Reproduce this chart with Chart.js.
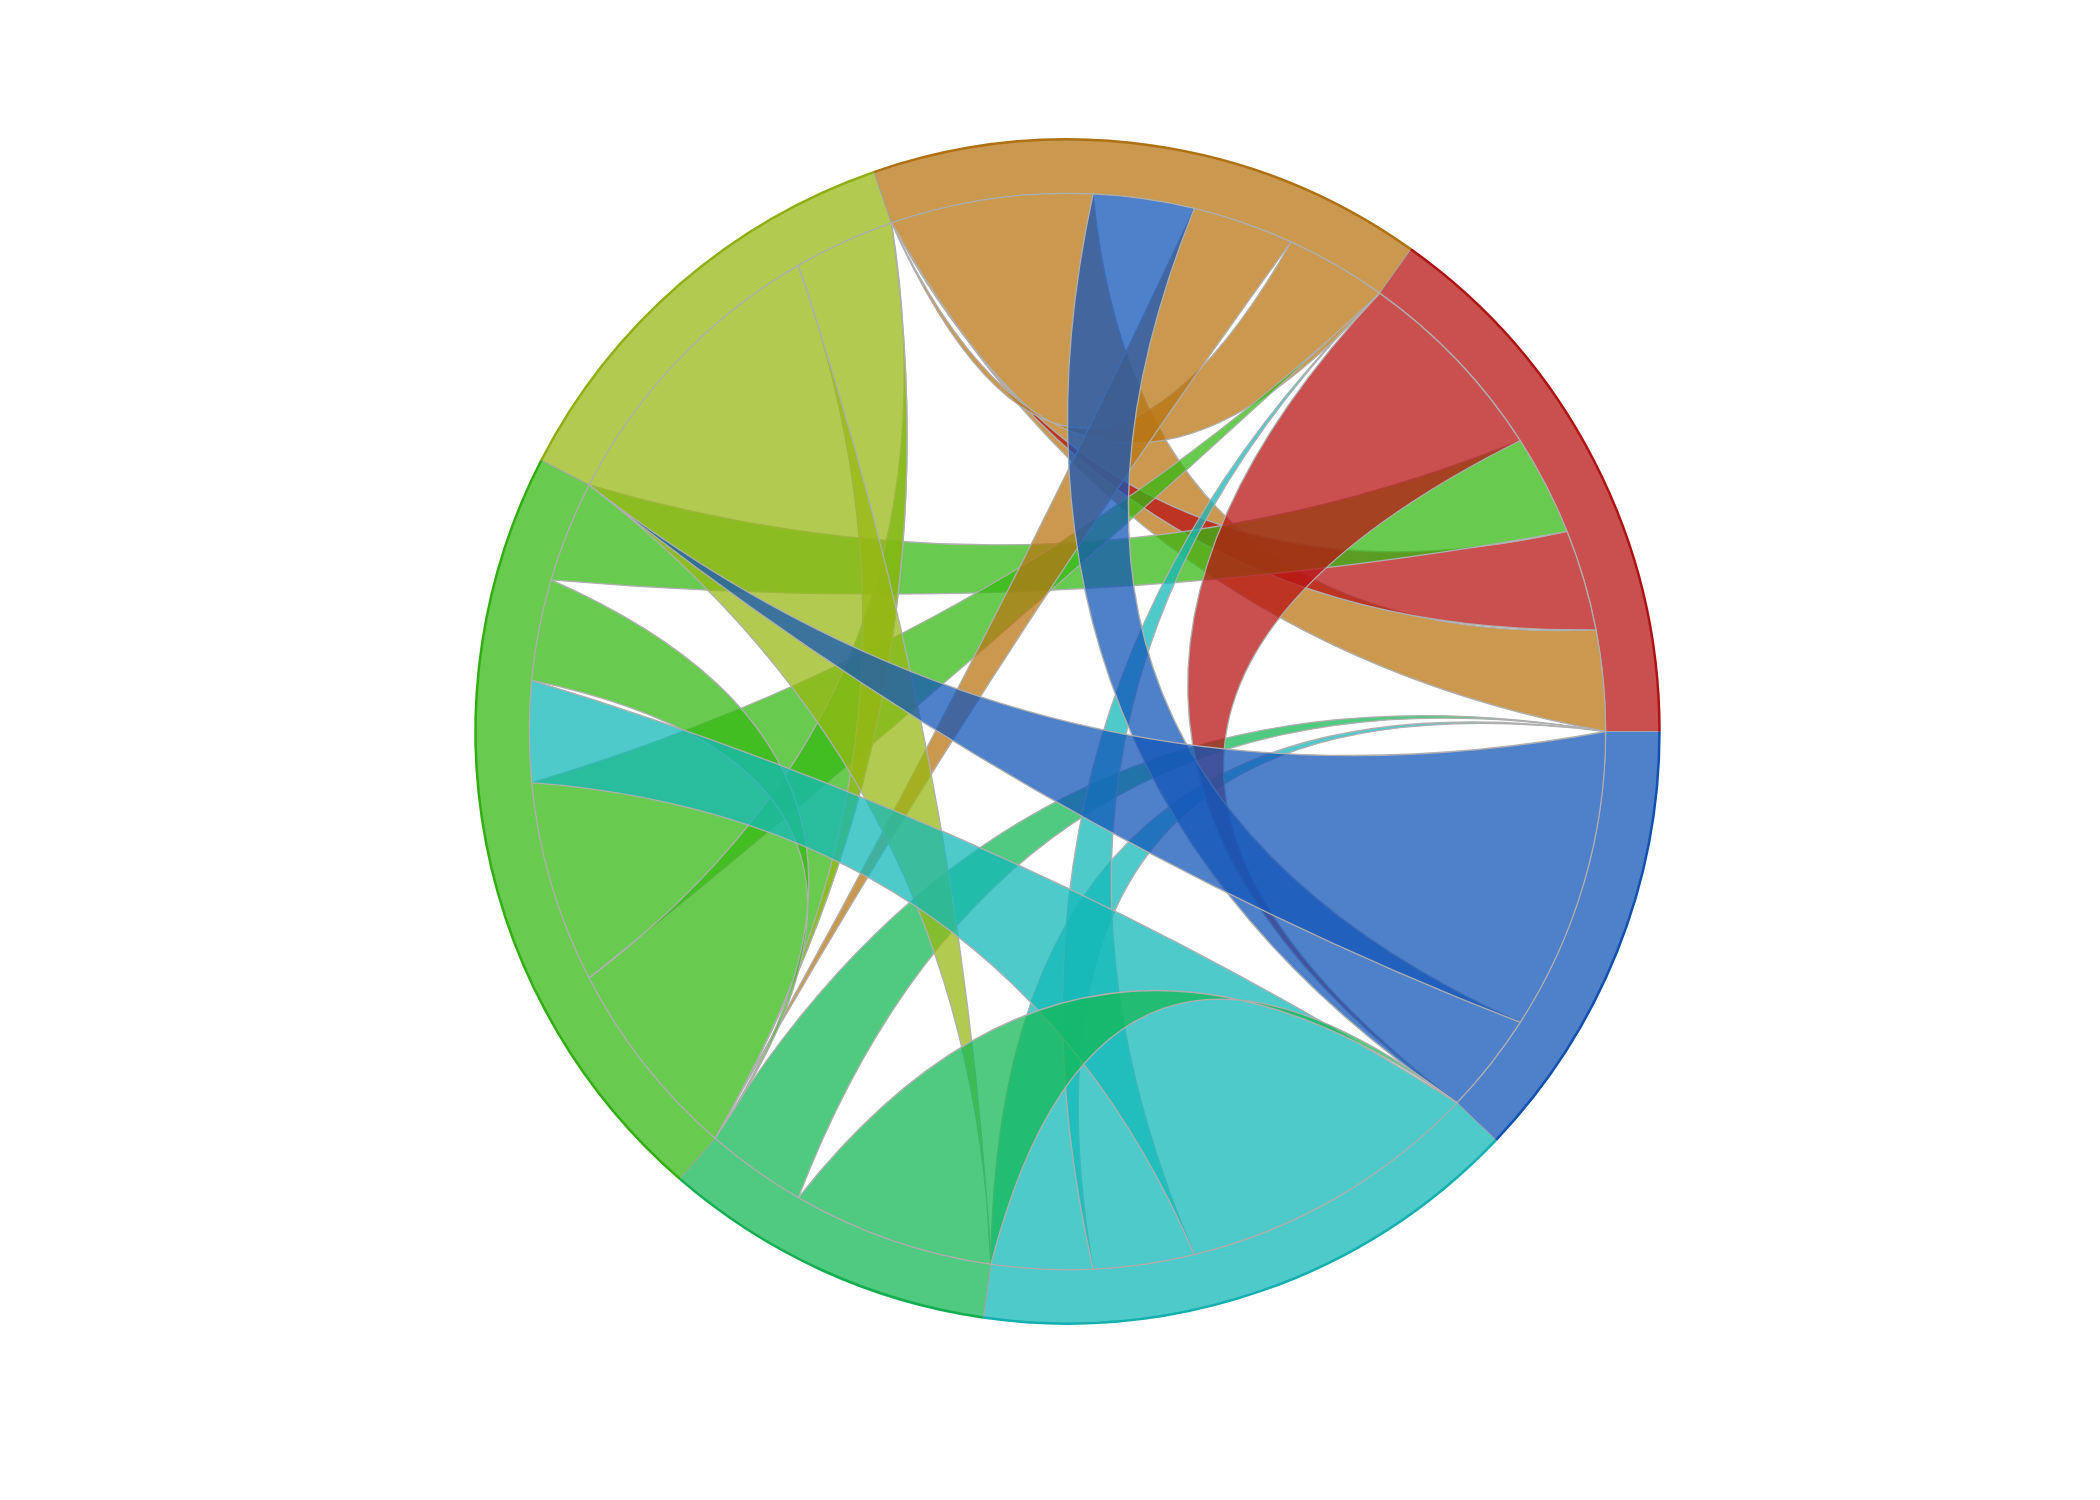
<!DOCTYPE html>
<html>
<head>
<meta charset="utf-8">
<script src="https://cdn.jsdelivr.net/npm/chart.js@4.4.1/dist/chart.umd.min.js"></script>
<style>
  html, body { margin: 0; padding: 0; background: #ffffff; }
  #wrap { width: 2100px; height: 1500px; }
</style>
</head>
<body>
<div id="wrap"><canvas id="chordChart" width="2100" height="1500"></canvas></div>
<script>
// groups run counterclockwise, starting at 3 o'clock
const groups = ['G1', 'G2', 'G3', 'G4', 'G5', 'G6', 'G7'];
const hues = [0, 36, 72, 108, 144, 180, 216];

// each row: width of the ribbon ends on that group, going to groups G1..G7
const fromG1 = [0, 1, 1, 1, 0, 0, 2];
const fromG2 = [2, 0, 1, 0, 1, 0, 1];
const fromG3 = [0, 0, 0, 0, 1, 3, 0];
const fromG4 = [1, 2, 2, 0, 1, 1, 0];
const fromG5 = [1, 0, 0, 0, 0, 0, 2];
const fromG6 = [1, 1, 0, 3, 0, 0, 0];
const fromG7 = [0, 1, 0, 3, 0, 0, 0];
const flows = [fromG1, fromG2, fromG3, fromG4, fromG5, fromG6, fromG7];

const totals = flows.map(row => row.reduce((s, v) => s + v, 0));
const fillColor = k => 'hsla(' + hues[k] + ', 80%, 40%, 0.75)';
const edgeColor = k => 'hsl(' + hues[k] + ', 80%, 38%)';

// the doughnut runs clockwise, so feed it the groups backwards
const order = groups.map((g, i) => groups.length - 1 - i);

const chordPlugin = {
  id: 'chords',
  afterDatasetsDraw(chart) {
    const ctx = chart.ctx;
    const arcs = chart.getDatasetMeta(0).data;
    const n = groups.length;
    const cx = arcs[0].x, cy = arcs[0].y, R = arcs[0].innerRadius;
    const TWO_PI = Math.PI * 2;

    // counterclockwise angle range of each group
    const range = groups.map((g, k) => {
      const a = arcs[n - 1 - k];
      return [TWO_PI - a.endAngle, TWO_PI - a.startAngle];
    });

    // ribbon ends inside each group, smallest first
    const ends = flows.map((row, k) => {
      const unit = (range[k][1] - range[k][0]) / totals[k];
      const idx = row.map((v, j) => j).sort((a, b) => row[a] - row[b] || a - b);
      const out = [];
      let t = range[k][0];
      idx.forEach(j => {
        out[j] = [t, t + row[j] * unit];
        t += row[j] * unit;
      });
      return out;
    });

    const P = (th, r) => [cx + r * Math.cos(th), cy - r * Math.sin(th)];

    ctx.save();
    ctx.lineWidth = 1.3;
    ctx.strokeStyle = 'rgb(175,175,175)';
    for (let k = 0; k < n; k++) {
      for (let j = k + 1; j < n; j++) {
        if (!flows[k][j] && !flows[j][k]) continue;
        const l = ends[k][j];
        const r = [ends[j][k][1], ends[j][k][0]];
        // ribbon takes the colour of its wider end (later group on a tie)
        const c = flows[j][k] >= flows[k][j] ? j : k;
        ctx.beginPath();
        let p = P(l[0], R);
        ctx.moveTo(p[0], p[1]);
        let cp = P((l[0] + r[0]) / 2, 0.2 * R);
        p = P(r[0], R);
        ctx.quadraticCurveTo(cp[0], cp[1], p[0], p[1]);
        ctx.arc(cx, cy, R, -r[0], -r[1], r[1] > r[0]);
        cp = P((r[1] + l[1]) / 2, 0.2 * R);
        p = P(l[1], R);
        ctx.quadraticCurveTo(cp[0], cp[1], p[0], p[1]);
        ctx.arc(cx, cy, R, -l[1], -l[0], l[0] > l[1]);
        ctx.closePath();
        ctx.fillStyle = fillColor(c);
        ctx.fill();
        ctx.stroke();
      }
    }

    // darker rim on the outside of the ring
    arcs.forEach((a, i) => {
      ctx.beginPath();
      ctx.arc(a.x, a.y, a.outerRadius, a.startAngle, a.endAngle);
      ctx.strokeStyle = edgeColor(n - 1 - i);
      ctx.lineWidth = 2.5;
      ctx.stroke();
    });
    ctx.restore();
  }
};

const chart = new Chart(document.getElementById('chordChart').getContext('2d'), {
  type: 'doughnut',
  data: {
    labels: order.map(k => groups[k]),
    datasets: [{
      data: order.map(k => totals[k]),
      backgroundColor: order.map(k => fillColor(k)),
      borderColor: 'rgb(165,165,165)',
      borderWidth: 1
    }]
  },
  options: {
    responsive: false,
    devicePixelRatio: 1,
    animation: false,
    events: [],
    rotation: 90,
    radius: 592,
    cutout: '90.909%',
    layout: { padding: { left: 35, right: 0, top: 0, bottom: 37 } },
    plugins: {
      legend: { display: false },
      tooltip: { enabled: false }
    }
  },
  plugins: [chordPlugin]
});
</script>
</body>
</html>
